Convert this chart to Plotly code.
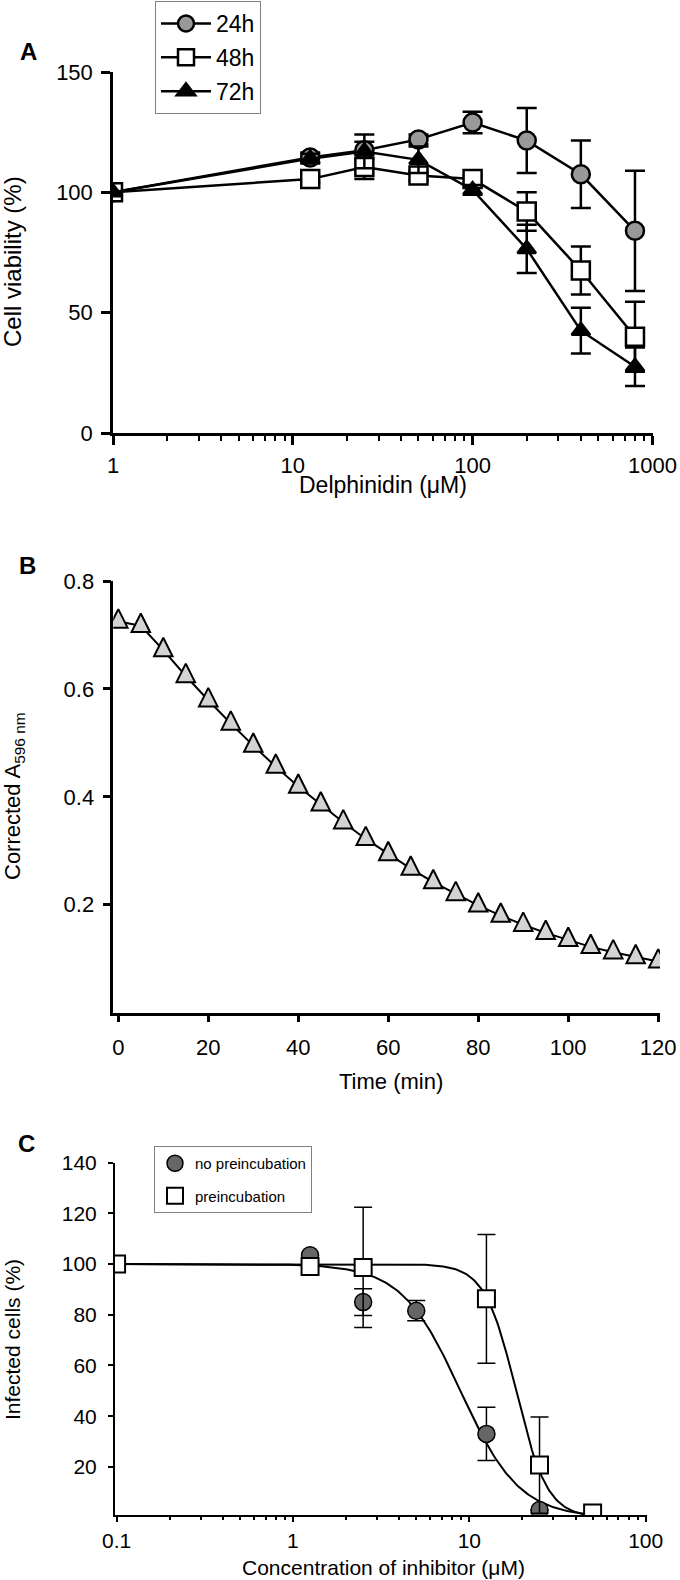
import numpy as np
import plotly.graph_objects as go

W, H = 680, 1580
FONT = "Liberation Sans, Arial, sans-serif"

# ---------------- Panel A data ----------------
conc_a = [1, 12.5, 25, 50, 100, 200, 400, 800]
via_24 = [100, 114.5, 117.5, 122, 129, 121.5, 107.5, 84]
err_24 = [0, 2, 3.5, 2, 4.5, 13.5, 14, 25]
via_48 = [100, 105.5, 110.5, 107, 105.5, 92, 67.5, 40]
err_48 = [0, 1.5, 5, 2, 1.5, 8, 10, 14.5]
via_72 = [100, 114, 117, 113.5, 101, 76.5, 42.5, 27.5]
err_72 = [0, 2, 7, 5.5, 2, 10, 9.5, 8]
labels_a = ["24h", "48h", "72h"]

# ---------------- Panel B data ----------------
time_b = [0, 5, 10, 15, 20, 25, 30, 35, 40, 45, 50, 55, 60,
          65, 70, 75, 80, 85, 90, 95, 100, 105, 110, 115, 120]
abs_b = [0.725, 0.717, 0.672, 0.624, 0.579, 0.536, 0.495, 0.456, 0.419,
         0.386, 0.353, 0.322, 0.294, 0.267, 0.242, 0.220, 0.199, 0.180,
         0.163, 0.148, 0.135, 0.122, 0.112, 0.103, 0.095]

# ---------------- Panel C data ----------------
conc_np = [1.25, 2.5, 5, 12.5, 25]
inf_np = [103.5, 85, 81.6, 33, 3]
err_np = [0, 5.3, 4, 10.5, 0]
conc_p = [0.1, 1.25, 2.5, 12.5, 25, 50]
inf_p = [100, 99, 98.7, 86.3, 20.7, 1.8]
err_p = [0, 0, 23.7, 25.4, 19, 0]
labels_c = ["no preincubation", "preincubation"]
# fitted dose-response (Hill) parameters
fit_np = dict(top=100, bottom=0, ic50=8.9, hill=2.6)
fit_p = dict(top=100, bottom=0, ic50=18.4, hill=4.9)
fit_range = [0.1, 50]


def hill(x, p):
    x = np.asarray(x, dtype=float)
    return p["bottom"] + (p["top"] - p["bottom"]) / (1 + (x / p["ic50"]) ** p["hill"])


def xdom(x0, x1):
    return [x0 / W, x1 / W]


def ydom(y_top, y_bot):
    return [1 - y_bot / H, 1 - y_top / H]


fig = go.Figure()

# ---- Panel A traces ----
a_styles = [
    dict(symbol="circle", size=18, color="#999999"),
    dict(symbol="square", size=18, color="white"),
    dict(symbol="triangle-up", size=16, color="black"),
]
for lab, vals, errs, st in zip(labels_a, [via_24, via_48, via_72],
                               [err_24, err_48, err_72], a_styles):
    fig.add_trace(go.Scatter(
        x=conc_a, y=vals, name=lab, mode="lines+markers",
        line=dict(color="black", width=2.5),
        marker=dict(symbol=st["symbol"], size=st["size"], color=st["color"],
                    line=dict(color="black", width=2.5)),
        error_y=dict(type="data", array=errs, visible=True, color="black",
                     thickness=2.5, width=10),
        xaxis="x", yaxis="y", legend="legend", legendgroup=lab,
    ))

# ---- Panel B trace ----
r_b = 9.25
fig.add_trace(go.Scatter(
    x=time_b, y=abs_b, mode="lines+markers", showlegend=False,
    line=dict(color="black", width=2),
    marker=dict(symbol="arrow-down", angle=180, standoff=4 * r_b / 3,
                size=2 * r_b, color="#d3d3d3",
                line=dict(color="black", width=2)),
    xaxis="x2", yaxis="y2",
))

# ---- Panel C traces ----
xs_fit = np.logspace(np.log10(fit_range[0]), np.log10(fit_range[1]), 300)
for p in (fit_np, fit_p):
    fig.add_trace(go.Scatter(
        x=xs_fit, y=hill(xs_fit, p), mode="lines", showlegend=False,
        line=dict(color="black", width=2), xaxis="x3", yaxis="y3",
    ))

fig.add_trace(go.Scatter(
    x=conc_np, y=inf_np, name=labels_c[0], mode="markers",
    marker=dict(symbol="circle", size=17, color="#666666",
                line=dict(color="black", width=1.5)),
    error_y=dict(type="data", array=err_np, visible=True, color="black",
                 thickness=1.5, width=9),
    xaxis="x3", yaxis="y3", legend="legend2", legendgroup="np",
))
fig.add_trace(go.Scatter(
    x=conc_p, y=inf_p, name=labels_c[1], mode="markers",
    marker=dict(symbol="square", size=17, color="white",
                line=dict(color="black", width=2)),
    error_y=dict(type="data", array=err_p, visible=True, color="black",
                 thickness=1.5, width=9),
    xaxis="x3", yaxis="y3", legend="legend2", legendgroup="p",
))

axis_common = dict(showline=True, linecolor="black", ticks="outside",
                   tickcolor="black", showgrid=False, zeroline=False,
                   mirror=False, fixedrange=True, automargin=False)

minor_a = [m * 10 ** e for e in range(0, 3) for m in range(2, 10)]
minor_c = [m * 10.0 ** e for e in range(-1, 2) for m in range(2, 10)]

fig.update_layout(
    template="none",
    width=W, height=H, margin=dict(l=0, r=0, t=0, b=0, pad=0),
    paper_bgcolor="white", plot_bgcolor="white",
    font=dict(family=FONT, color="black", size=20),
    xaxis=dict(axis_common, type="log", domain=xdom(113, 653.3),
               range=[0, 3.005], anchor="y",
               tickvals=[1, 10, 100, 1000], ticktext=["1", "10", "100", "1000"],
               linewidth=2.5, tickwidth=2.5, ticklen=9,
               tickfont=dict(size=22), ticklabelstandoff=2,
               minor=dict(ticks="outside", tickmode="array", tickvals=minor_a,
                          ticklen=5, tickwidth=2, tickcolor="black",
                          showgrid=False)),
    yaxis=dict(axis_common, domain=ydom(72, 433), range=[0, 150], anchor="x",
               tickvals=[0, 50, 100, 150], linewidth=2.5, tickwidth=2.5,
               ticklen=9, tickfont=dict(size=22), ticklabelstandoff=4),
    xaxis2=dict(axis_common, domain=xdom(113.3, 660), range=[-1.11, 120.4],
                anchor="y2", tickvals=[0, 20, 40, 60, 80, 100, 120],
                linewidth=2.5, tickwidth=2.5, ticklen=7,
                tickfont=dict(size=22), ticklabelstandoff=6),
    yaxis2=dict(axis_common, domain=ydom(581, 1012.7), range=[0, 0.8],
                anchor="x2", tickvals=[0.2, 0.4, 0.6, 0.8],
                ticktext=["0.2", "0.4", "0.6", "0.8"],
                linewidth=2.5, tickwidth=2.5, ticklen=8,
                tickfont=dict(size=22), ticklabelstandoff=4),
    xaxis3=dict(axis_common, type="log", domain=xdom(115, 646.5),
                range=[-1.009, 2.0045], anchor="y3",
                tickvals=[0.1, 1, 10, 100], ticktext=["0.1", "1", "10", "100"],
                linewidth=2, tickwidth=2, ticklen=5,
                tickfont=dict(size=21), ticklabelstandoff=1,
                minor=dict(ticks="outside", tickmode="array", tickvals=minor_c,
                           ticklen=3, tickwidth=1.5, tickcolor="black",
                           showgrid=False)),
    yaxis3=dict(axis_common, domain=ydom(1162.7, 1515), range=[1, 140],
                anchor="x3", tickvals=[20, 40, 60, 80, 100, 120, 140],
                linewidth=2, tickwidth=2, ticklen=5,
                tickfont=dict(size=21), ticklabelstandoff=7),
    legend=dict(x=155 / W, y=1 - 1 / H, xanchor="left", yanchor="top",
                bgcolor="white", bordercolor="#808080", borderwidth=1,
                font=dict(size=23, family=FONT), tracegroupgap=1,
                itemwidth=50),
    legend2=dict(x=154 / W, y=1 - 1146 / H, xanchor="left", yanchor="top",
                 bgcolor="white", bordercolor="#808080", borderwidth=1,
                 font=dict(size=15, family=FONT), tracegroupgap=10,
                 itemwidth=30),
    showlegend=True,
)


def ann(text, px, py, size=20, angle=0, bold=False):
    fig.add_annotation(
        text=f"<b>{text}</b>" if bold else text,
        x=px / W, y=1 - py / H, xref="paper", yref="paper",
        xanchor="center", yanchor="middle", showarrow=False,
        textangle=angle, font=dict(size=size, family=FONT, color="black"),
    )


ann("A", 28, 52, size=24, bold=True)
ann("B", 27, 565, size=24, bold=True)
ann("C", 26, 1143, size=24, bold=True)
ann("Cell viability (%)", 12, 262, size=24, angle=-90)
ann("Delphinidin (μM)", 383, 485, size=23)
ann("Corrected A<sub>596 nm</sub>", 14, 796, size=22, angle=-90)
ann("Time (min)", 391, 1081, size=22)
ann("Infected cells (%)", 12, 1340, size=21, angle=-90)
ann("Concentration of inhibitor (μM)", 383, 1567, size=21)

fig.write_html(
    "out.html",
    config={"displayModeBar": False},
    post_script="document.body.style.margin='0px';"
                "document.body.style.padding='0px';"
                "document.documentElement.style.overflow='hidden';",
)
